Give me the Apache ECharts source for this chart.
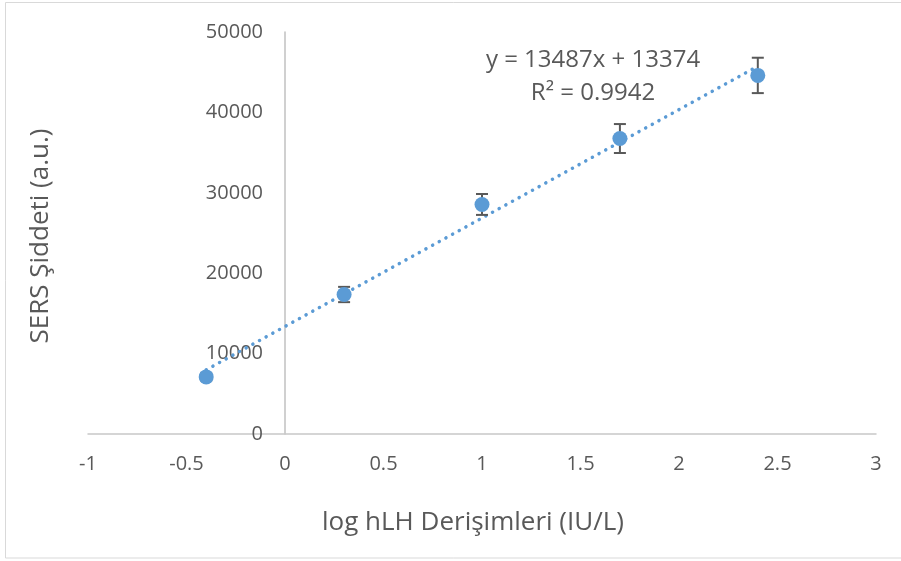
<!DOCTYPE html>
<html><head><meta charset="utf-8">
<script src="https://cdn.jsdelivr.net/npm/echarts@6/dist/echarts.min.js"></script>
<style>html,body{margin:0;padding:0;background:#fff}#c{width:901px;height:561px}</style>
</head><body><div id="c"></div>
<script>
var xValues = [-0.4, 0.3, 1.0, 1.7, 2.4];
var yValues = [7100, 17350, 28550, 36750, 44600];
var yErrors = [450, 950, 1300, 1800, 2200];
var trendX = [-0.4, 2.4];
var trendY = [7980, 45743];
var equationText = 'y = 13487x + 13374';
var r2Text = 'R² = 0.9942';
var xTitle = 'log hLH Derişimleri (IU/L)';
var yTitle = 'SERS Şiddeti (a.u.)';

var pts = xValues.map(function(x,i){return [x, yValues[i]];});
var errs = xValues.map(function(x,i){return [x, yValues[i]-yErrors[i], yValues[i]+yErrors[i]];});
var trend = trendX.map(function(x,i){return [x, trendY[i]];});
var txt = '#595959';
var font = 'Open Sans';
var chart = echarts.init(document.getElementById('c'));
chart.setOption({
  animation:false,
  backgroundColor:'#fff',
  grid:{left:88,right:25,top:32,bottom:127},
  xAxis:{type:'value',min:-1,max:3,interval:0.5,
    axisLine:{onZero:false,lineStyle:{color:'#c8c8c8',width:1.5}},
    axisTick:{show:false},splitLine:{show:false},
    axisLabel:{color:txt,fontSize:20,fontFamily:font,margin:20}},
  yAxis:{type:'value',min:0,max:50000,interval:10000,offset:-197,
    axisLine:{show:true,onZero:false,lineStyle:{color:'#c0c0c0',width:1.5}},
    axisTick:{show:false},splitLine:{show:false},
    axisLabel:{color:txt,fontSize:20,fontFamily:font,margin:22,
      formatter:function(v){return String(v);}}},
  graphic:[
    {type:'rect',shape:{x:5.5,y:2.5,width:900,height:555.5},style:{fill:'none',stroke:'#d9d9d9',lineWidth:1},z:-10},
    {type:'text',style:{text:xTitle,x:473,y:523,align:'center',verticalAlign:'middle',fill:txt,font:'26px "'+font+'"'}},
    {type:'text',x:41,y:236,rotation:Math.PI/2,style:{text:yTitle,align:'center',verticalAlign:'middle',fill:txt,font:'26px "'+font+'"'}},
    {type:'text',style:{text:equationText,x:593,y:60,align:'center',verticalAlign:'middle',fill:txt,font:'24px "'+font+'"'}},
    {type:'text',style:{text:r2Text,x:593,y:93,align:'center',verticalAlign:'middle',fill:txt,font:'24px "'+font+'"'}}
  ],
  series:[
    {type:'line',data:trend,symbol:'none',silent:true,z:1,
      lineStyle:{color:'#5b9bd5',width:3.5,type:[0.1,7.5],cap:'round'}},
    {type:'custom',data:errs,z:3,
      renderItem:function(params,api){
        var x=api.value(0);
        var lo=api.coord([x,api.value(1)]), hi=api.coord([x,api.value(2)]);
        var w=6;
        var st={stroke:'#595959',lineWidth:2};
        return {type:'group',children:[
          {type:'line',shape:{x1:lo[0],y1:lo[1],x2:hi[0],y2:hi[1]},style:st},
          {type:'line',shape:{x1:lo[0]-w,y1:lo[1],x2:lo[0]+w,y2:lo[1]},style:st},
          {type:'line',shape:{x1:hi[0]-w,y1:hi[1],x2:hi[0]+w,y2:hi[1]},style:st}
        ]};
      }},
    {type:'scatter',data:pts,symbol:'circle',symbolSize:15,z:4,
      itemStyle:{color:'#5b9bd5',opacity:1}}
  ]
});
</script></body></html>
